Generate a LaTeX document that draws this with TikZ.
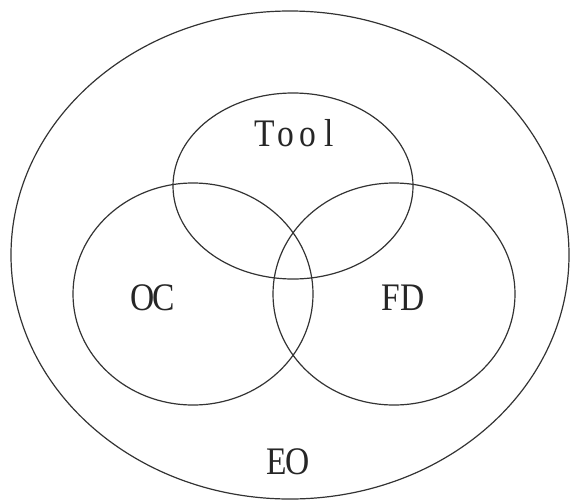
\documentclass[tikz,border=0pt]{standalone}
\usepackage{fontspec}
\usetikzlibrary{shapes.geometric}
\setmainfont{Liberation Serif}
% each letter sits in a fixed-width cell, narrowed, like a half-width CJK font
\newcommand{\cell}[1]{\makebox[21.5pt]{\scalebox{0.86}[1]{#1}}}
\begin{document}
\begin{tikzpicture}[x=1pt,y=-1pt,
  set/.style={draw=black!80,line width=1.2pt,ellipse,inner sep=0pt},
  lbl/.style={inner sep=0pt,text=black!85,font=\fontsize{39}{39}\selectfont}]
\useasboundingbox (0,0) rectangle (572,501);
% outer set
\node[set,minimum width=558pt,minimum height=488pt] (eo) at (290,255) {};
% three overlapping sets
\node[set,minimum width=240pt,minimum height=186pt] (tool) at (293,186) {};
\node[set,minimum width=240pt,minimum height=222pt] (oc) at (193,294) {};
\node[set,minimum width=242pt,minimum height=222pt] (fd) at (394,294) {};
% labels
\node[lbl] (tooll) at (297,133) {\cell{T}\cell{o}\cell{o}\cell{l}};
\node[lbl] (ocl) at (153,298) {\cell{O}\cell{C}};
\node[lbl] (fdl) at (402,298) {\cell{F}\cell{D}};
\node[lbl] (eol) at (287,462) {\cell{E}\cell{O}};
\end{tikzpicture}
\end{document}
